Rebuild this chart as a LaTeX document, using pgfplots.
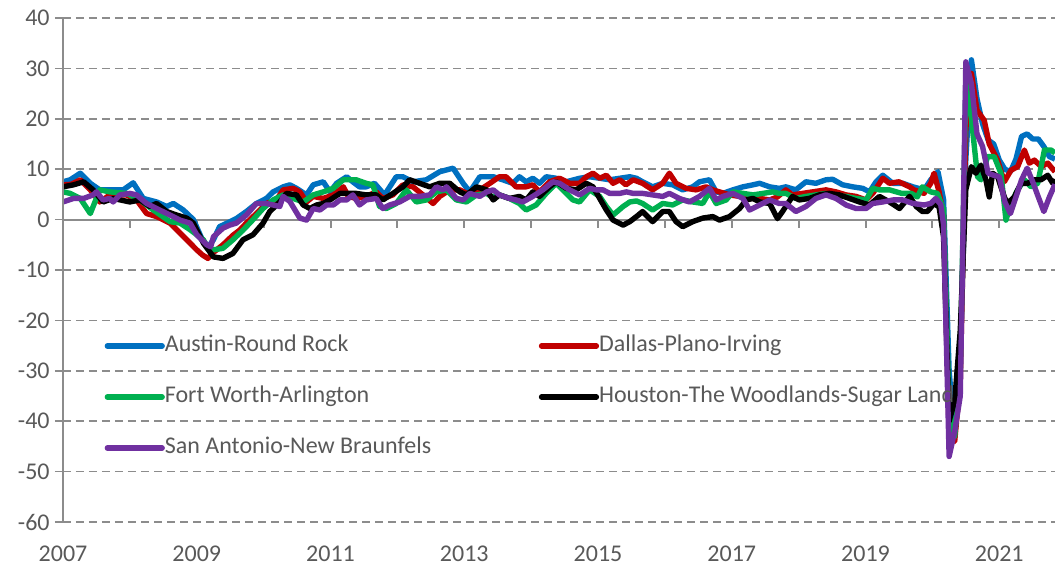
\documentclass[border=0pt]{standalone}
\usepackage{fontspec}
\setmainfont{Carlito}
\usepackage{pgfplots}
\pgfplotsset{compat=1.18}
\definecolor{cAus}{HTML}{0070C0}
\definecolor{cDal}{HTML}{C00000}
\definecolor{cFtw}{HTML}{00B050}
\definecolor{cHou}{HTML}{000000}
\definecolor{cSan}{HTML}{7030A0}
\definecolor{txt}{HTML}{595959}
\definecolor{grd}{HTML}{8C8C8C}
\begin{document}
\begin{tikzpicture}
\begin{axis}[
  scale only axis, width=496pt, height=252pt,
  xmin=0, xmax=178, ymin=-60, ymax=40,
  axis line style={draw=none},
  xtick={0,24,48,72,96,120,144,168},
  xticklabels={2007,2009,2011,2013,2015,2017,2019,2021},
  xtick style={draw=none},
  ytick={-60,-50,-40,-30,-20,-10,0,10,20,30,40},
  yticklabels={-60,-50,-40,-30,-20,-10,0,10,20,30,40},
  ytick pos=left, xtick pos=bottom,
  ytick style={grd, line width=0.8pt},
  tick align=outside, major tick length=4pt,
  ymajorgrids, grid style={grd, line width=0.8pt, dash pattern=on 4pt off 2.5pt},
  tick label style={font=\fontsize{12}{14}\selectfont, text=txt},
  xticklabel style={anchor=center, yshift=-12pt},
  yticklabel style={anchor=east, inner sep=0pt, xshift=-2.5pt},
  every axis plot/.append style={line width=2.7pt, line join=round, no markers},
  legend columns=2,
  legend cell align=left,
  legend style={draw=none, fill=none, at={(0.042,0.371)}, anchor=north west,
    inner sep=0pt, outer sep=0pt, column sep=0pt, row sep=14.5pt,
    nodes={inner xsep=0pt, inner ysep=0pt, text height=8pt, text depth=3pt,
      font=\fontsize{12}{14}\selectfont, text=txt}},
  legend image code/.code={\draw[#1, line width=2.6pt, line cap=round] (0pt,0pt) -- (27.5pt,0pt);},
]
\coordinate (pbl) at (rel axis cs:0,0);
\coordinate (ptr) at (rel axis cs:1,1);
\draw[grd, line width=1pt] (axis cs:0,0) -- (axis cs:178,0);
\pgfplotsinvokeforeach{12,24,36,48,60,72,84,96,108,120,132,144,156,168}{
  \draw[grd, line width=1pt] (axis cs:#1,0) -- ++(0pt,-4pt);
}
% Austin-Round Rock
\addplot[cAus] coordinates {(0,7.5)(1.3,7.9)(3.1,9.2)(4.9,7.2)(6.6,5.9)(8.4,5.9)(10.8,5.9)(12.6,7.3)(14.4,4.2)(16.8,3.5)(18.6,2.6)(19.8,3.2)(21.6,1.9)(23.4,0)(25,-4)(26,-5.5)(27,-4)(28.1,-1.4)(30,-0.4)(31.1,0.2)(32.9,1.6)(34.7,3.2)(36.5,4.2)(37.7,5.5)(39.5,6.5)(40.7,6.9)(41.9,6.2)(43.7,4.9)(44.9,6.9)(46.7,7.5)(47.9,5.5)(49.1,7.2)(50.9,8.5)(52,7.5)(53.2,6.5)(54.4,6.5)(55.9,7.2)(57.7,4.9)(59.8,8.5)(61,8.5)(62.8,7.5)(65.2,7.9)(67.6,9.5)(70,10.2)(71.8,7.2)(73,5.5)(74.8,8.5)(77.2,8.5)(78.9,7.9)(80.7,7.2)(81.9,8.5)(83.1,7.5)(84.3,8.2)(85.5,7.2)(86.7,8.5)(88.5,8.2)(90.3,7.5)(92.7,8.2)(94.5,8.5)(96.3,8.2)(98.1,7.9)(99.9,8.2)(101.7,8.5)(102.9,8.2)(104,7.5)(105.8,6.5)(107.6,7.2)(109.4,6.9)(111.2,5.9)(113,6.5)(114.2,7.5)(116,7.9)(117.2,5.5)(118.4,5.2)(120.2,5.9)(122,6.5)(123.8,6.9)(125,7.2)(126.8,6.5)(128.5,6.2)(129.7,6.5)(131.5,5.9)(133.3,7.5)(135.1,7.2)(136.9,7.9)(138.1,8.0)(139.9,6.9)(141.7,6.5)(143.5,6.2)(144.7,5.5)(145.9,7.5)(147.1,8.8)(148.9,7.2)(150.7,7.2)(152.5,6.5)(154.5,5.9)(155.7,7.9)(157,9.5)(158,4)(159,-30)(160,-43)(161,-28)(162,12)(163,31.7)(164,24)(165,19)(166,15.8)(167,15)(168,11.8)(169,10)(170,9.5)(171,12)(172,16.5)(173,17)(174,16)(175,16)(176,14.5)(177,12.5)(178,12)};
\addlegendentry{\makebox[187pt][l]{Austin-Round Rock}}
% Dallas-Plano-Irving
\addplot[cDal] coordinates {(0,6.9)(1.5,7)(3.1,7.9)(4.9,5.9)(6.6,3.5)(8.4,4.9)(11.4,4.9)(13.2,3.9)(15,1.2)(16.8,0.6)(19.2,-0.7)(20.4,-2)(22.2,-4)(24,-6)(25,-7)(26,-7.7)(27,-6.5)(28.7,-5)(30.5,-3.1)(31.7,-2.1)(32.9,-0.7)(34.7,1.2)(36.5,3.2)(38.3,3.9)(39.5,5.9)(41.3,6.2)(42.5,5.5)(43.7,3.5)(44.9,4.6)(46.7,4.2)(48.5,4.9)(50.3,6.5)(51.2,4.6)(52.6,4.2)(54.4,4.6)(56.2,5.5)(57.4,4.2)(59.2,4.9)(61,6.9)(62.8,6.5)(64.6,4.9)(66.4,3.2)(67.6,4.6)(69.4,5.9)(71.2,5.9)(73,4.9)(74.8,5.9)(76.6,7.2)(78.3,8.5)(79.5,8.5)(81.3,6.5)(83.1,6.5)(84.3,6.9)(85.5,5.5)(87.3,7.5)(89.1,8.2)(90.9,7.2)(92.7,7.2)(93.9,8.5)(95.1,9.2)(96.3,8.2)(97.5,8.8)(98.7,7.2)(99.9,7.9)(101,6.9)(102.3,7.9)(104,7.2)(105.8,5.9)(107.6,7.2)(108.8,9.2)(110,7.2)(111.8,6.2)(113.6,5.9)(115.4,6.5)(116.6,5.9)(117.8,5.5)(119.6,4.9)(121.4,4.6)(123.2,4.2)(125,4.2)(126.8,3.9)(128.2,4.5)(129.7,5.9)(130.9,4.9)(132.7,5.2)(134.5,5.5)(136.9,5.9)(138.7,5.5)(140.5,4.9)(142.3,4.6)(144.1,3.9)(145.3,5.2)(147.1,8.2)(148.3,7.2)(150,7.5)(151.9,6.5)(152.7,5.9)(154.5,5.2)(155.7,7.2)(156.3,9.2)(157.2,5.5)(158,1)(159,-42)(160,-44)(161,-32)(162,18)(163,29)(164,21.7)(165.3,19.7)(166.2,15)(167.7,11.8)(168.9,7.5)(170.1,9.8)(171.3,10.5)(172.5,13.8)(173.4,11.2)(174.3,11.8)(175.5,10.5)(176.7,11.2)(178,9.5)};
\addlegendentry{Dallas-Plano-Irving}
% Fort Worth-Arlington
\addplot[cFtw] coordinates {(0,5.5)(1.3,5.2)(3.1,4.2)(4.9,1.2)(6.6,5.9)(8.4,5.5)(11.4,5.2)(13.8,3.9)(16.2,1.9)(19.2,-0.4)(21,-0.7)(22.8,-2)(25.2,-4)(26,-5.7)(27,-6)(28.7,-5.7)(30.5,-4)(32.3,-2.1)(34.1,0)(35.9,2.2)(37.7,3.9)(39.5,4.9)(41.3,4.2)(43.1,3.5)(44.9,4.9)(46.7,5.5)(48.5,6.2)(50.3,7.9)(52.6,7.9)(54.4,7.2)(55.6,6.9)(56.8,2.6)(58,2.2)(59.8,3.2)(61.6,5.9)(63.4,3.5)(65.2,3.9)(67,5.5)(68.8,5.9)(70.6,3.9)(72.4,3.5)(74.2,4.9)(76,5.2)(77,4.5)(78.3,4.9)(80.1,4.2)(81.9,3.2)(83.1,1.9)(84.9,2.9)(86.7,5.2)(88.5,7.2)(89.7,5.9)(91.5,3.9)(92.7,3.5)(94.5,5.9)(96.3,4.6)(97.5,2.6)(98.7,0.9)(100.5,2.6)(101.7,3.5)(102.9,3.7)(104,3.2)(105.8,1.9)(107.6,3.2)(109.4,2.9)(111.2,3.9)(113,3.5)(114.8,3.2)(116,5.5)(117.2,3.2)(119,3.9)(120.2,5.5)(122,5.2)(123.8,4.9)(125.6,5.2)(127.3,5.5)(128.5,5.2)(129.7,5.2)(131.5,4.2)(133.3,4.6)(135.1,4.9)(136.9,5.2)(138.7,4.6)(140.5,4.6)(142.3,4.2)(144.1,3.9)(145.3,6.2)(146.5,5.9)(148.3,5.9)(150.5,5.2)(152.2,5.2)(153.3,4.5)(154.2,6.5)(155.7,5.5)(156.9,5.2)(158,2)(159,-38)(160,-43)(161,-30)(162,27)(163,20)(164.1,8.5)(164.7,7.9)(165.9,12.5)(167.1,12.5)(168.3,9.2)(169.2,-0.1)(170.1,3.2)(171.3,5.9)(172.5,7.9)(173.7,6.5)(174.9,7.2)(176.1,13.8)(177.3,13.8)(178,13.2)};
\addlegendentry{\makebox[187pt][l]{Fort Worth-Arlington}}
% Houston-The Woodlands-Sugar Land
\addplot[cHou] coordinates {(0,6.5)(1.9,6.9)(3.7,7.5)(5.4,5.9)(7.2,3.5)(9,4.2)(12,3.5)(13.8,3.9)(15.6,2.6)(16.8,3.2)(18.6,1.6)(20.4,0.9)(22.2,0.3)(23.4,-0.7)(25.2,-4.7)(27,-7.4)(28.7,-7.7)(30.5,-6.7)(32.3,-4)(34.1,-3)(35.9,-0.7)(37.1,1.6)(38.9,3.5)(40.1,5.2)(41.9,4.9)(43.1,2.9)(44.3,2.2)(45.5,2.9)(46.7,3.2)(47.9,3.9)(49.7,5.2)(51.5,5.2)(52.6,5.2)(54.4,4.9)(56.2,4.9)(57.4,3.9)(59.2,5.2)(61,6.5)(62.2,7.9)(64,7.2)(65.8,6.5)(67.6,7.2)(69.4,7.2)(71.2,5.5)(72.4,4.9)(74.2,6.5)(76,5.9)(77.2,3.9)(78.3,4.9)(80.1,4.2)(81.9,4.6)(83.1,3.9)(84.3,5.5)(85.5,4.6)(87.3,6.5)(88.5,7.5)(90.3,6.2)(92.1,5.9)(93.9,7.2)(95.1,6.5)(96.3,4.2)(97.5,1.9)(98.7,-0.1)(100.5,-1.1)(101.7,-0.4)(102.9,0.6)(104,1.6)(105.8,-0.4)(107.6,1.6)(108.8,1.6)(110,-0.4)(111.2,-1.4)(113,-0.4)(114.8,0.3)(116.6,0.6)(117.8,-0.1)(119.6,0.6)(121.4,2.2)(122.6,3.9)(123.8,4.2)(125,3.5)(126.8,3.2)(128.2,0.2)(129.1,1.6)(130.9,4.6)(132.1,3.9)(133.9,4.2)(135.7,4.9)(137.5,5.2)(139.3,4.9)(141.1,4.2)(142.9,3.5)(144.7,2.9)(146.5,4.6)(148.3,3.5)(150.1,2.2)(151.9,4.6)(153.1,2.6)(154.2,1.6)(155.1,1.6)(156.3,3.2)(157.2,2.5)(158,-3.4)(159,-40)(160,-36)(161,-22)(162,6)(163,10.5)(163.8,9.2)(164.7,10.8)(165.6,7.9)(166.2,4.5)(166.8,9.2)(167.7,8.5)(168.9,4.5)(169.5,3.2)(170.7,4.5)(171.9,7.2)(173.1,7.2)(174.3,7.9)(175.5,7.9)(176.7,8.8)(177.6,7.2)(178,8)};
\addlegendentry{Houston-The Woodlands-Sugar Land}
% San Antonio-New Braunfels
\addplot[cSan] coordinates {(0,3.5)(1.9,4.2)(3.7,4.2)(5.4,4.9)(6,5.5)(7.2,3.9)(8.4,4.2)(9,3.5)(10.2,4.9)(12,5.2)(13.2,4.9)(15,3.2)(16.8,2.2)(19.2,0.9)(21,-0.1)(22.8,-0.7)(24,-3)(25.8,-5)(26.5,-5.4)(27,-3.4)(28.7,-1.7)(29.9,-1.1)(31.1,-0.7)(32.9,0.9)(34.7,3.2)(36.5,3.2)(37.7,2.9)(38.9,2.6)(39.5,4.6)(40.7,3.6)(42.5,0.3)(43.7,-0.1)(44.9,2.2)(46.1,1.9)(47.3,2.9)(48.5,2.9)(49.7,3.9)(50.9,3.9)(52,4.9)(53.2,2.9)(54.4,3.9)(56.2,4.2)(57.4,2.2)(58.6,2.9)(60.4,3.5)(62.2,4.6)(64,4.6)(65.8,4.9)(67,6.5)(68.2,5.9)(68.8,6.5)(70.6,4.2)(71.8,3.9)(73,5.2)(74.8,4.6)(76,5.5)(77.2,5.9)(78.3,4.9)(80.1,4.2)(81.3,3.9)(82.5,3.5)(84.3,4.6)(86.1,5.9)(87.9,7.5)(89.1,7.2)(90.9,5.9)(92.7,4.9)(94.5,6.2)(95.7,5.9)(96.9,5.9)(98.1,5.2)(99.9,5.2)(101.1,5.5)(102.3,5.2)(104,5.2)(105.8,4.9)(107.6,4.6)(108.8,5.2)(110.6,4.2)(112.4,3.5)(114.2,4.6)(116,6.2)(117.2,3.9)(118.4,4.6)(120.2,5.2)(122,4.2)(123.2,1.9)(125,2.9)(126.8,3.9)(128.5,3.2)(129.7,3.2)(131.5,1.6)(133.3,2.6)(135.1,4.2)(136.9,4.9)(138.7,4.2)(140.5,2.9)(142.3,2.2)(144.1,2.2)(145.3,3.2)(147.1,3.5)(148.9,3.9)(150.7,3.9)(152.5,3.2)(154.5,2.9)(155.7,3.2)(156.6,4.2)(157.5,3)(158,-1)(159,-47)(160,-42)(161,-35)(162,31.3)(163,27)(164,17)(165,14.5)(166,9.2)(167,8.8)(168,8.5)(169,3.5)(170,1.2)(171,4.5)(172,7.9)(173,10.2)(174,7.5)(175,4.5)(176,1.6)(177,4.5)(178,7)};
\addlegendentry{San Antonio-New Braunfels}
\end{axis}
\draw[grd, line width=1pt] (pbl) -- (pbl |- ptr);
\pgfresetboundingbox
\path[use as bounding box] ([shift={(-31.5pt,-23pt)}]pbl) rectangle ([shift={(0pt,9pt)}]ptr);
\end{tikzpicture}
\end{document}
